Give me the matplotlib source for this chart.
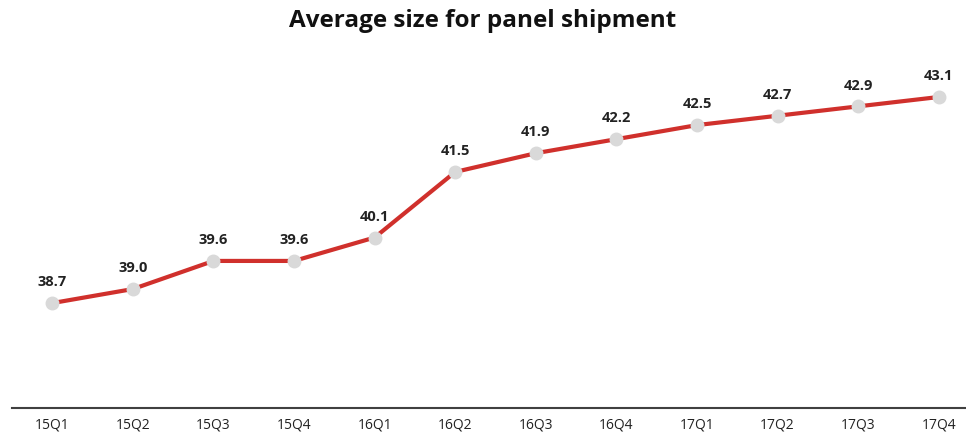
import matplotlib
matplotlib.use("Agg")
import matplotlib.pyplot as plt
import numpy as np

quarters = ["15Q1", "15Q2", "15Q3", "15Q4", "16Q1", "16Q2",
            "16Q3", "16Q4", "17Q1", "17Q2", "17Q3", "17Q4"]
avg_size = [38.7, 39.0, 39.6, 39.6, 40.1, 41.5,
            41.9, 42.2, 42.5, 42.7, 42.9, 43.1]

plt.rcParams["font.family"] = ["Open Sans", "DejaVu Sans"]

W, H = 966, 432
fig = plt.figure(figsize=(W / 100, H / 100), dpi=100)
left, right, bottom, top = 12, 979, 408, 60
ax = fig.add_axes([left / W, 1 - bottom / H, (right - left) / W, (bottom - top) / H])

x = np.arange(len(quarters))
ax.plot(x, avg_size, color="#D0302C", lw=3, zorder=2, solid_capstyle="round")
ax.plot(x, avg_size, ls="none", marker="o", ms=9, color="#D9D9D9", zorder=3)

for xi, v in zip(x, avg_size):
    ax.annotate(f"{v:.1f}", (xi, v), xytext=(0, 15), textcoords="offset points",
                ha="center", va="center", fontsize=10.5, fontweight="bold", color="#222222")

ax.set_xlim(-0.5, len(quarters) - 0.5)
ax.set_ylim(36.46, 43.89)
ax.set_xticks(x)
ax.set_xticklabels(quarters, fontsize=10, color="#222222")
ax.tick_params(axis="x", length=0, pad=7)
ax.set_yticks([])
for s in ("top", "left", "right"):
    ax.spines[s].set_visible(False)
ax.spines["bottom"].set_color("#404040")
ax.spines["bottom"].set_linewidth(1.5)

fig.text(0.5, 1 - 21 / H, "Average size for panel shipment", ha="center", va="center",
         fontsize=17.5, fontweight="bold", color="#111111")

fig.savefig("out.png", dpi=100)
